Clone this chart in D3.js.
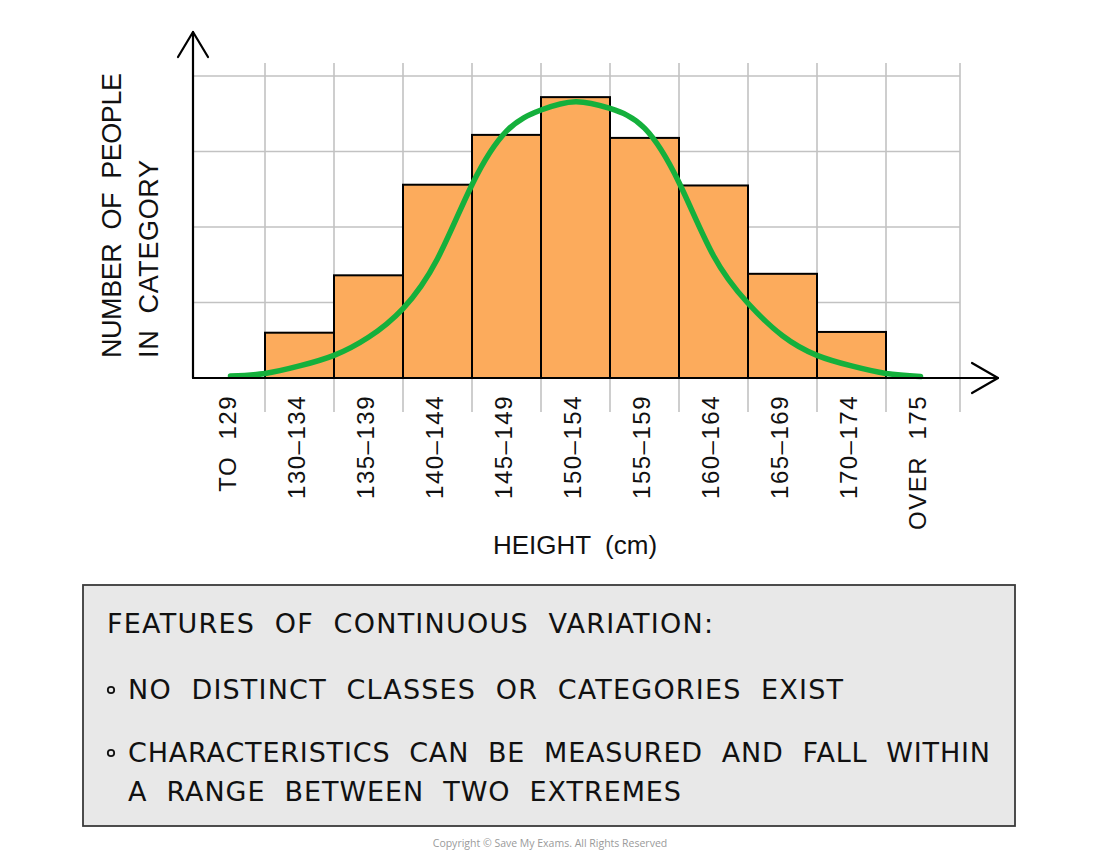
<!DOCTYPE html>
<html>
<head>
<meta charset="utf-8">
<script src="https://cdn.jsdelivr.net/npm/d3@7/dist/d3.min.js"></script>
<style>
  html, body { margin: 0; padding: 0; background: #ffffff; }
  svg { display: block; }
</style>
</head>
<body>
<svg id="chart" width="1100" height="856"></svg>
<script>
// ---------- data ----------
const categories = ["TO  129", "130–134", "135–139", "140–144", "145–149", "150–154",
                    "155–159", "160–164", "165–169", "170–174", "OVER  175"];
// number of people per category (one grid square = 10)
const counts = [0, 6, 13.6, 25.6, 32.2, 37.2, 31.8, 25.5, 13.8, 6.1, 0];
const gridValues = [10, 20, 30, 40];
// smooth curve every 2.5 cm: [height (cm), value]
const curveHeights = [127, 129.5, 132, 134.5, 137, 139.5, 142, 144.5, 147, 149.5, 152,
                      154.5, 157, 159.5, 162, 164.5, 167, 169.5, 172, 174.5, 177];
const curveValues  = [0.25, 0.6, 1.6, 3.0, 5.4, 9.2, 15.8, 25.6, 32.7, 35.5, 36.6,
                      35.7, 33.1, 25.9, 16.2, 9.9, 5.6, 3.0, 1.6, 0.6, 0.2];
const heightDomain = [124.5, 179.5];
const yTitleLines = ["NUMBER  OF  PEOPLE", "IN  CATEGORY"];
const xTitle = "HEIGHT  (cm)";
const boxTitle = "FEATURES  OF  CONTINUOUS  VARIATION:";
const boxBullets = [
  ["NO  DISTINCT  CLASSES  OR  CATEGORIES  EXIST"],
  ["CHARACTERISTICS  CAN  BE  MEASURED  AND  FALL  WITHIN", "A  RANGE  BETWEEN  TWO  EXTREMES"]
];
const copyright = "Copyright © Save My Exams. All Rights Reserved";

// ---------- layout ----------
const svg = d3.select("#chart");
const x0 = 196, x1 = 955;
const axisX = 193, axisY = 378;

const x = d3.scaleBand().domain(categories).range([x0, x1]).padding(0);
const xh = d3.scaleLinear().domain(heightDomain).range([x0, x1]);
const y = d3.scaleLinear().domain([0, 40]).range([axisY, 76]);

const gridColor = "#c2c2c2";
const g = svg.append("g");

// horizontal grid
g.selectAll("line.hgrid").data(gridValues).join("line")
  .attr("class", "hgrid")
  .attr("x1", axisX).attr("x2", 960)
  .attr("y1", d => y(d)).attr("y2", d => y(d))
  .attr("stroke", gridColor).attr("stroke-width", 1.6);

// vertical grid at band edges (skip the first: y axis)
const edges = categories.slice(1).map(c => x(c)).concat([x1 + 5]);
g.selectAll("line.vgrid").data(edges).join("line")
  .attr("class", "vgrid")
  .attr("x1", d => d).attr("x2", d => d)
  .attr("y1", 63).attr("y2", 412)
  .attr("stroke", gridColor).attr("stroke-width", 1.6);

// bars
const barData = categories.map((c, i) => ({ c, v: counts[i] })).filter(d => d.v > 0);
g.selectAll("rect.bar").data(barData).join("rect")
  .attr("class", "bar")
  .attr("x", d => x(d.c))
  .attr("y", d => y(d.v))
  .attr("width", x.bandwidth())
  .attr("height", d => y(0) - y(d.v))
  .attr("fill", "#fcab5c")
  .attr("stroke", "#000").attr("stroke-width", 2);

// curve
const curvePts = curveHeights.map((h, i) => [h, curveValues[i]]);
g.append("path")
  .datum(curvePts)
  .attr("d", d3.line().x(d => xh(d[0])).y(d => y(d[1])).curve(d3.curveNatural))
  .attr("fill", "none")
  .attr("stroke", "#14b03c")
  .attr("stroke-width", 5.5)
  .attr("stroke-linecap", "round");

// axes with arrows
const axisStyle = s => s.attr("stroke", "#000").attr("stroke-width", 2.2).attr("fill", "none")
  .attr("stroke-linecap", "round").attr("stroke-linejoin", "round");
g.append("line").attr("x1", axisX).attr("x2", axisX).attr("y1", 32).attr("y2", axisY).call(axisStyle);
g.append("polyline").attr("points", `${axisX - 15},57 ${axisX},32 ${axisX + 15},57`).call(axisStyle);
g.append("line").attr("x1", axisX).attr("x2", 998).attr("y1", axisY).attr("y2", axisY).call(axisStyle);
g.append("polyline").attr("points", `972,363 998,${axisY} 972,393`).call(axisStyle);

// x tick labels via axis generator
const xAxis = g.append("g")
  .attr("transform", `translate(0,${axisY})`)
  .call(d3.axisBottom(x).tickSize(0).tickPadding(0));
xAxis.select(".domain").remove();
xAxis.selectAll("text")
  .attr("transform", "rotate(-90)")
  .attr("text-anchor", "end")
  .attr("x", -17)
  .attr("y", -3)
  .attr("dy", "0.36em")
  .attr("font-family", "'Liberation Sans', Arial, sans-serif")
  .attr("font-size", 24)
  .attr("letter-spacing", 1.5)
  .attr("fill", "#111")
  .style("white-space", "pre");

// axis titles
const yTitle = g.append("text")
  .attr("transform", "rotate(-90)")
  .attr("font-family", "'Liberation Sans', Arial, sans-serif")
  .attr("font-size", 27)
  .attr("fill", "#111")
  .style("white-space", "pre");
yTitle.selectAll("tspan").data(yTitleLines).join("tspan")
  .attr("x", -358)
  .attr("y", (d, i) => 121 + i * 37)
  .attr("textLength", (d, i) => i === 0 ? 285 : 198)
  .attr("lengthAdjust", "spacing")
  .text(d => d);

g.append("text")
  .attr("x", 575).attr("y", 554)
  .attr("text-anchor", "middle")
  .attr("font-family", "'Liberation Sans', Arial, sans-serif")
  .attr("font-size", 26)
  .attr("fill", "#111")
  .style("white-space", "pre")
  .text(xTitle);

// info box
g.append("rect")
  .attr("x", 83).attr("y", 585).attr("width", 932).attr("height", 241)
  .attr("fill", "#e8e8e8").attr("stroke", "#3a3a3a").attr("stroke-width", 1.8);

const boxFont = "'DejaVu Sans', sans-serif";
g.append("text")
  .attr("x", 107).attr("y", 633)
  .attr("font-family", boxFont).attr("font-size", 27)
  .attr("fill", "#111")
  .attr("textLength", 606).attr("lengthAdjust", "spacing")
  .style("white-space", "pre")
  .text(boxTitle);

const lineWidths = [[715], [862, 553]];
const bulletY = [699, 762];
boxBullets.forEach((lines, bi) => {
  g.append("circle")
    .attr("cx", 111).attr("cy", bulletY[bi] - 9).attr("r", 3.2)
    .attr("fill", "none").attr("stroke", "#111").attr("stroke-width", 1.8);
  lines.forEach((t, li) => {
    g.append("text")
      .attr("x", 128).attr("y", bulletY[bi] + li * 39)
      .attr("font-family", boxFont).attr("font-size", 27)
      .attr("fill", "#111")
      .attr("textLength", lineWidths[bi][li]).attr("lengthAdjust", "spacing")
      .style("white-space", "pre")
      .text(t);
  });
});

g.append("text")
  .attr("x", 550).attr("y", 847)
  .attr("text-anchor", "middle")
  .attr("font-family", "'Open Sans', sans-serif")
  .attr("font-size", 10.5)
  .attr("fill", "#9a9a9a")
  .text(copyright);
</script>
</body>
</html>
